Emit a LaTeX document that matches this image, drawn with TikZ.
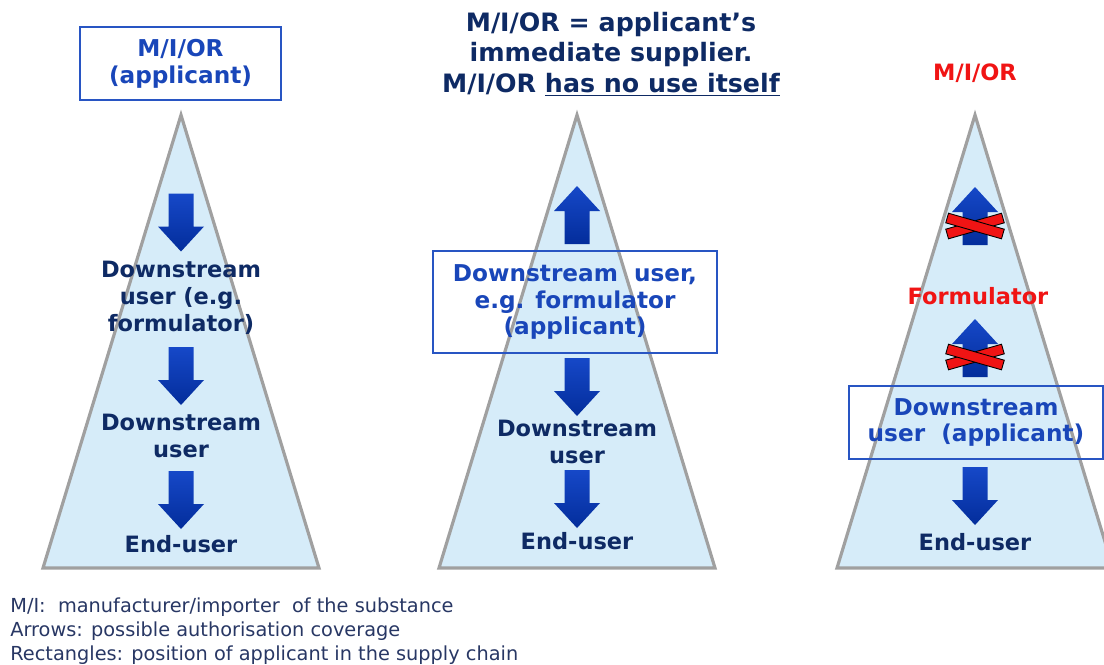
\documentclass[tikz,border=0pt]{standalone}
\usepackage{fontspec}
\setmainfont{DejaVu Sans}
\usepackage{tikz}
\usetikzlibrary{positioning}
\usetikzlibrary{calc}
\definecolor{navytext}{RGB}{14,42,100}
\definecolor{applblue}{RGB}{25,70,185}
\definecolor{boxline}{RGB}{40,85,195}
\definecolor{pyrfill}{RGB}{214,236,249}
\definecolor{pyrline}{RGB}{160,160,160}
\definecolor{arrowtop}{RGB}{22,72,200}
\definecolor{arrowbot}{RGB}{3,45,155}
\definecolor{legendtext}{RGB}{40,55,100}
\definecolor{alertred}{RGB}{240,20,20}
\tikzstyle{pyramid}=[draw=pyrline,fill=pyrfill,line width=1.8pt,line join=miter]
\tikzstyle{chainlabel}=[text=navytext,font=\fontsize{12.8}{15.3}\selectfont\bfseries,align=center,inner sep=0pt]
\tikzstyle{applicantbox}=[draw=boxline,line width=0.8pt,text=applblue,font=\fontsize{13.2}{15.3}\selectfont\bfseries,align=center,inner sep=0pt]
\tikzstyle{redlabel}=[text=alertred,font=\fontsize{12.8}{15.3}\selectfont\bfseries,inner sep=0pt]
\tikzstyle{crossbar}=[fill=alertred,draw=black,line width=0.5pt]
\tikzset{
  blockarrow/.pic={
    \path[top color=arrowtop,bottom color=arrowbot,draw=none]
      (-12.5,-29) -- (12.5,-29) -- (12.5,4) -- (23,4) -- (0,29) -- (-23,4) -- (-12.5,4) -- cycle;
  }
}

\begin{document}
\begin{tikzpicture}[x=0.02cm,y=-0.02cm]
    \clip (0,0) rectangle (1104,664);

    % the three supply chains
    \foreach \x in {181,577,975}
        \draw[pyramid] (\x,115) -- (\x-138,568) -- (\x+138,568) -- cycle;

%left chain
    \node[applicantbox,minimum width=201*0.02cm,minimum height=73*0.02cm] (MIapp) at (180.5,63.5) {M/I/OR\\(applicant)};
    \foreach \y in {222.5,376,500}
        \pic at (181,\y) {blockarrow};
    \node[chainlabel] (DUformL) at (181,298) {Downstream\\user (e.g.\\formulator)};
    \node[chainlabel] (DUL) at (181,436) {Downstream\\user};
    \node[chainlabel] (EUL) at (181,544) {End-user};

%middle chain
    \node[chainlabel,font=\fontsize{14.4}{17.4}\selectfont\bfseries] (supplier) at (611,54)
        {M/I/OR = applicant’s\\immediate supplier.\\M/I/OR \underline{has no use itself}};
    \pic[rotate=180] at (577,215) {blockarrow};
    \foreach \y in {387,499}
        \pic at (577,\y) {blockarrow};
    \node[applicantbox,minimum width=284*0.02cm,minimum height=102*0.02cm] (DUapp) at (575,302)
        {Downstream\ \ user,\\e.g. formulator\\(applicant)};
    \node[chainlabel] (DUM) at (577,442) {Downstream\\user};
    \node[chainlabel] (EUM) at (577,541) {End-user};

%right chain
    \node[redlabel] (MIR) at (975,73) {M/I/OR};
    \node[redlabel] (formR) at (978,296) {Formulator};
    \foreach \y/\c in {216/226,348/357}{
        \pic[rotate=180] at (975,\y) {blockarrow};
        % not covered
        \filldraw[crossbar,rotate around={16:(975,\c)}] (946,\c-5) rectangle (1004,\c+5);
        \filldraw[crossbar,rotate around={-16:(975,\c)}] (946,\c-5) rectangle (1004,\c+5);
    }
    \pic at (975,496) {blockarrow};
    \node[applicantbox,minimum width=254*0.02cm,minimum height=73*0.02cm] (DUappR) at (976,422.5)
        {Downstream\\user\ \ (applicant)};
    \node[chainlabel] (EUR) at (975,542) {End-user};

    % legend
    \node[anchor=west,align=left,text=legendtext,inner sep=0pt,font=\fontsize{11}{13.6}\selectfont] (legend) at (10,631)
        {M/I:\ \ manufacturer/importer\ \ of the substance\\Arrows: possible authorisation coverage\\Rectangles: position of applicant in the supply chain};
\end{tikzpicture}
\end{document}
